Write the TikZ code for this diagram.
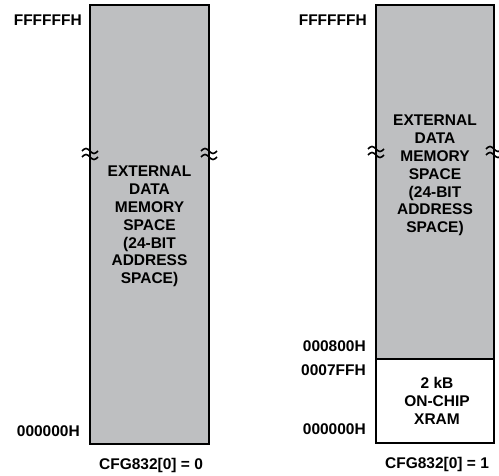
\documentclass[tikz,border=0pt]{standalone}
\usepackage{fontspec}
\setmainfont{Liberation Sans}
\begin{document}
\begin{tikzpicture}[x=1pt,y=-1pt,
  memgray/.style={fill={rgb,255:red,190;green,191;blue,193}},
  memblock/.style={draw=black, line width=1.8pt, rectangle, inner sep=0pt},
  lbl/.style={font=\fontsize{15.5}{18}\selectfont\bfseries, inner sep=0pt},
  boxtext/.style={font=\fontsize{15.5}{17.8}\selectfont\bfseries, align=center, inner sep=0pt},
  squig/.style={line width=1.6pt}
]
\useasboundingbox (0,0) rectangle (499,476);
% left block
\node[memblock, memgray, minimum width=119pt, minimum height=439pt] (L) at (149.5,224.5) {};
% right block
\node[memblock, memgray, minimum width=118pt, minimum height=354pt] (RU) at (435,182) {};
\node[memblock, fill=white, minimum width=118pt, minimum height=84pt] (RL) at (435,401) {};

% texts in blocks
\node[boxtext] (LT) at (149.5,226.5) {EXTERNAL\\DATA\\MEMORY\\SPACE\\(24-BIT\\ADDRESS\\SPACE)};
\node[boxtext] (RT) at (435,175.5) {EXTERNAL\\DATA\\MEMORY\\SPACE\\(24-BIT\\ADDRESS\\SPACE)};
\node[boxtext] (RX) at (437,401) {2 kB\\ON-CHIP\\XRAM};

% address labels
\node[lbl, anchor=east] (la1) at (82,20) {FFFFFFH};
\node[lbl, anchor=east] (la2) at (80,431) {000000H};
\node[lbl, anchor=east] (ra1) at (367,20) {FFFFFFH};
\node[lbl, anchor=east] (ra2) at (366,346) {000800H};
\node[lbl, anchor=east] (ra3) at (366,370) {0007FFH};
\node[lbl, anchor=east] (ra4) at (366,429) {000000H};

% captions
\node[lbl] (c1) at (151,465) {CFG832[0] = 0};
\node[lbl] (c2) at (437,464) {CFG832[0] = 1};

% break marks
\foreach \cx/\cy in {90/154, 209/154, 376/152, 494/152}{
  \draw[squig] (\cx-8,\cy-3) sin (\cx-4,\cy-5.5) cos (\cx,\cy-3) sin (\cx+4,\cy-0.5) cos (\cx+8,\cy-3);
  \draw[squig] (\cx-8,\cy+3) sin (\cx-4,\cy+0.5) cos (\cx,\cy+3) sin (\cx+4,\cy+5.5) cos (\cx+8,\cy+3);
}
\end{tikzpicture}
\end{document}
